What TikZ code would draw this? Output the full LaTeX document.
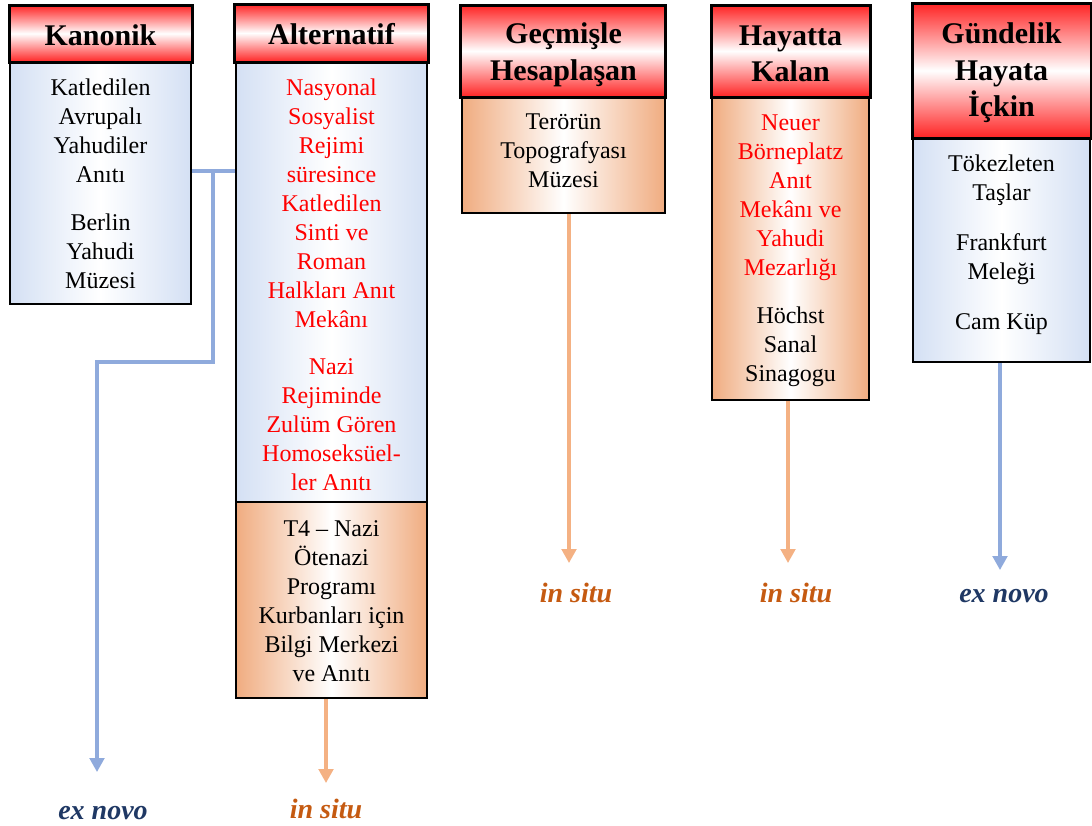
\documentclass[tikz,border=0pt]{standalone}
\usepackage{fontspec}
\setmainfont{Liberation Serif}
\usetikzlibrary{fit,arrows.meta}
\definecolor{hdrred}{RGB}{255,35,35}
\definecolor{bblue}{RGB}{212,224,244}
\definecolor{borange}{RGB}{240,172,128}
\definecolor{ablue}{RGB}{143,170,220}
\definecolor{aorange}{RGB}{244,177,131}
\definecolor{situc}{RGB}{197,90,17}
\definecolor{novoc}{RGB}{31,56,100}
\definecolor{txtred}{RGB}{255,0,0}
\begin{document}
\begin{tikzpicture}[x=0.75pt,y=-0.75pt,
  hdr/.style={draw=black,line width=2.25pt,inner sep=0pt,top color=hdrred,bottom color=hdrred,middle color=white},
  hdrtext/.style={anchor=north,inner sep=0pt,align=center,font=\bfseries\fontsize{22.5}{27.5}\selectfont},
  bluebody/.style={draw=black,line width=1.5pt,inner sep=0pt,left color=bblue,right color=bblue,middle color=white},
  orangebody/.style={draw=black,line width=1.5pt,inner sep=0pt,left color=borange,right color=borange,middle color=white},
  btext/.style={anchor=north,inner sep=0pt,align=center,font=\fontsize{18}{21.75}\selectfont},
  redtext/.style={btext,text=txtred},
  lab/.style={anchor=base,inner sep=0pt,font=\bfseries\itshape\fontsize{21}{25}\selectfont},
  bline/.style={draw=ablue,line width=2.3pt},
  barrow/.style={bline,-{Triangle[width=11pt,length=10.5pt]}},
  oarrow/.style={draw=aorange,line width=2.3pt,-{Triangle[width=11pt,length=10.5pt]}}
]
\useasboundingbox (0,0) rectangle (1092,825);

% Kanonik
\node[bluebody,fit={(10,62) (191,304)}] (kanB) {};
\node[hdr,fit={(9,5) (192,62)}] (kanH) {};
\node[hdrtext] (kanHT) at (100.5,19.3) {\strut Kanonik};
\node[btext] (kanT) at (100.5,75.4) {\strut Katledilen\\Avrupalı\\Yahudiler\\Anıtı\\[14pt]Berlin\\Yahudi\\Müzesi};

% Alternatif
\node[bluebody,fit={(236,62) (427,502)}] (altB) {};
\node[orangebody,fit={(236,502) (427,698)}] (altO) {};
\node[hdr,fit={(234,4) (428,62)}] (altH) {};
\node[hdrtext] (altHT) at (331.5,18.3) {\strut Alternatif};
\node[redtext] (altT1) at (331.5,74.7) {\strut Nasyonal\\Sosyalist\\Rejimi\\süresince\\Katledilen\\Sinti ve\\Roman\\Halkları Anıt\\Mekânı\\[14pt]Nazi\\Rejiminde\\Zulüm Gören\\Homoseksüel-\\ler Anıtı};
\node[btext] (altT2) at (331.5,516.4) {\strut T4 – Nazi\\Ötenazi\\Programı\\Kurbanları için\\Bilgi Merkezi\\ve Anıtı};

% Geçmişle Hesaplaşan
\node[orangebody,fit={(462,97) (665,213)}] (gecB) {};
\node[hdr,fit={(460,5) (665,97)}] (gecH) {};
\node[hdrtext] (gecHT) at (563.5,17.6) {\strut Geçmişle\\Hesaplaşan};
\node[btext] (gecT) at (563.5,109) {\strut Terörün\\Topografyası\\Müzesi};

% Hayatta Kalan
\node[orangebody,fit={(712,97) (869,400)}] (hayB) {};
\node[hdr,fit={(711,5) (870,97)}] (hayH) {};
\node[hdrtext] (hayHT) at (790.5,19.3) {\strut Hayatta\\Kalan};
\node[redtext] (hayT1) at (790.5,109.7) {\strut Neuer\\Börneplatz\\Anıt\\Mekânı ve\\Yahudi\\Mezarlığı};
\node[btext] (hayT2) at (790.5,303) {\strut Höchst\\Sanal\\Sinagogu};

% Gündelik Hayata İçkin
\node[bluebody,fit={(913,138) (1090,362)}] (gunB) {};
\node[hdr,fit={(912,3) (1091,138)}] (gunH) {};
\node[hdrtext] (gunHT) at (1001.5,17.6) {\strut Gündelik\\Hayata\\İçkin};
\node[btext] (gunT) at (1001.5,151.4) {\strut Tökezleten\\Taşlar\\[15.75pt]Frankfurt\\Meleği\\[15.75pt]Cam Küp};

% labels
\node[lab,text=novoc] (lab1) at (103,819) {ex novo};
\node[lab,text=situc] (lab2) at (326,818) {in situ};
\node[lab,text=situc] (lab3) at (576,602) {in situ};
\node[lab,text=situc] (lab4) at (796,602) {in situ};
\node[lab,text=novoc] (lab5) at (1004,602) {ex novo};

% arrow tips and joints
\coordinate (j1) at (213,171);
\coordinate (j2) at (97,362);
\coordinate (t1) at (97,772);
\coordinate (t2) at (326,783);
\coordinate (t3) at (569,563);
\coordinate (t4) at (788,563);
\coordinate (t5) at (1000,570);

% connectors
\draw[bline] (kanB.east |- j1) -- (altB.west |- j1);
\draw[barrow] (j1) |- (j2) -- (t1);
\draw[oarrow] (altO.south -| t2) -- (t2);
\draw[oarrow] (gecB.south -| t3) -- (t3);
\draw[oarrow] (hayB.south -| t4) -- (t4);
\draw[barrow] (gunB.south -| t5) -- (t5);
\end{tikzpicture}
\end{document}
